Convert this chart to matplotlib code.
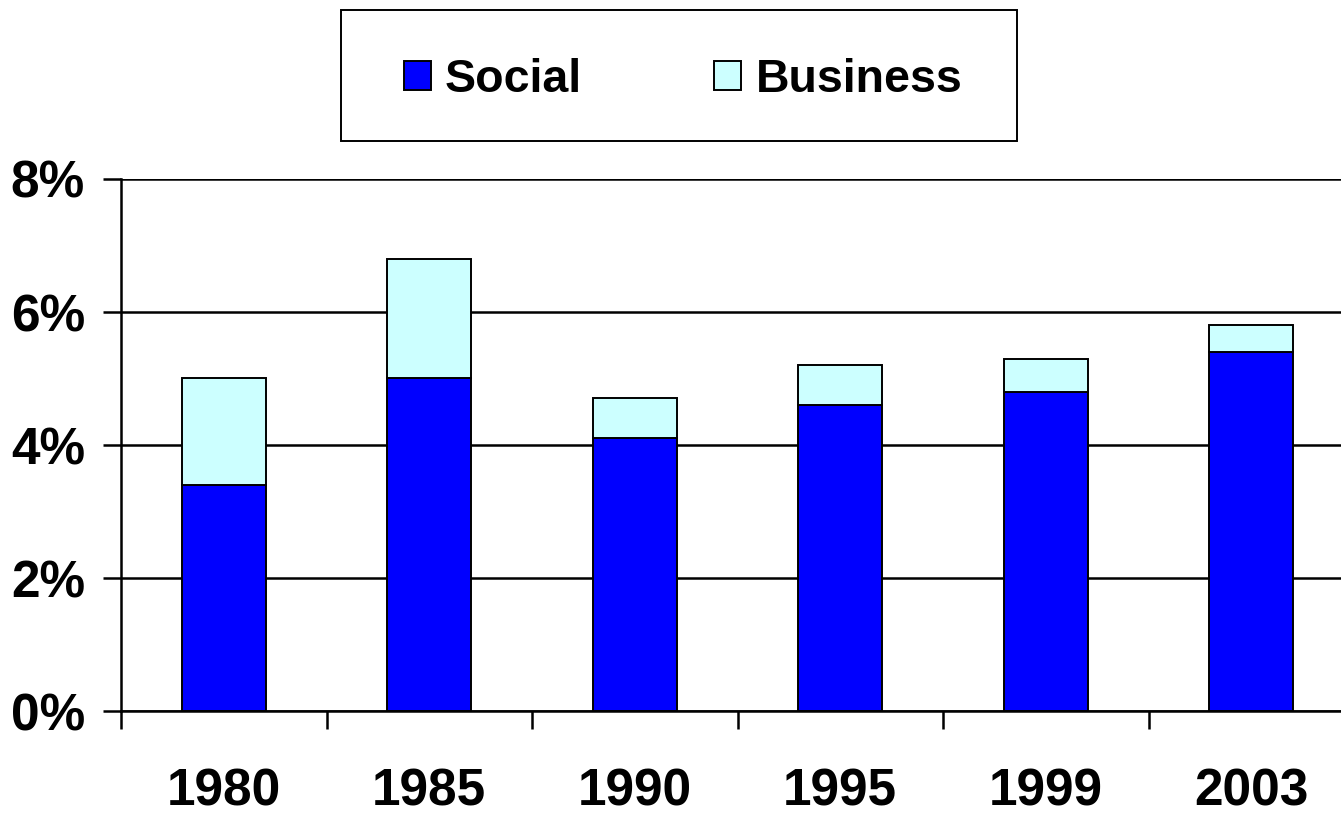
import matplotlib

matplotlib.use("Agg")
import matplotlib.pyplot as plt
from matplotlib.patches import Rectangle
from matplotlib.ticker import FuncFormatter
import numpy as np

years = ["1980", "1985", "1990", "1995", "1999", "2003"]
social = [3.4, 5.0, 4.1, 4.6, 4.8, 5.4]
business = [1.6, 1.8, 0.6, 0.6, 0.5, 0.4]

plt.rcParams["font.family"] = ["Liberation Sans", "DejaVu Sans"]
plt.rcParams["font.weight"] = "bold"

W, H = 1341, 813
fig = plt.figure(figsize=(W / 100, H / 100), dpi=100)
# category width is 205.5 px, so the last slot runs a little past the right edge
ax = fig.add_axes([121 / W, (H - 711) / H, 1233 / W, 532 / H])

x = np.arange(len(years))
bar_kw = dict(width=0.41, edgecolor="black", linewidth=1.4, zorder=3)
ax.bar(x, social, color="#0000FF", label="Social", **bar_kw)
ax.bar(x, business, bottom=social, color="#CCFFFF", label="Business", **bar_kw)

ax.set_xlim(-0.5, len(years) - 0.5)
ax.set_ylim(0, 8)
ax.set_yticks([0, 2, 4, 6, 8])
ax.yaxis.set_major_formatter(FuncFormatter(lambda v, _: f"{v:.0f}%"))
ax.grid(axis="y", color="black", linewidth=1.8, zorder=1)

ax.set_xticks(x)
ax.set_xticklabels(years)
ax.set_xticks(np.arange(-0.5, len(years)), minor=True)
ax.tick_params(axis="x", which="major", length=0, pad=41, labelsize=37)
ax.tick_params(axis="x", which="minor", length=13, width=1.8, direction="out")
ax.tick_params(axis="y", length=13, width=1.8, direction="out", pad=13, labelsize=37)

for side in ("top", "right"):
    ax.spines[side].set_visible(False)
for side in ("left", "bottom"):
    ax.spines[side].set_linewidth(1.8)
    ax.spines[side].set_zorder(4)

fig.legend(
    loc="center",
    bbox_to_anchor=(683 / W, 1 - 80 / H),
    ncol=2,
    frameon=False,
    fontsize=33.5,
    handlelength=0.58,
    handleheight=0.58,
    handletextpad=0.3,
    columnspacing=2.85,
)
fig.patches.append(
    Rectangle((341 / W, 1 - 141 / H), 676 / W, 131 / H, transform=fig.transFigure,
              fill=False, edgecolor="black", linewidth=1.4)
)

fig.savefig("out.png", dpi=100)
